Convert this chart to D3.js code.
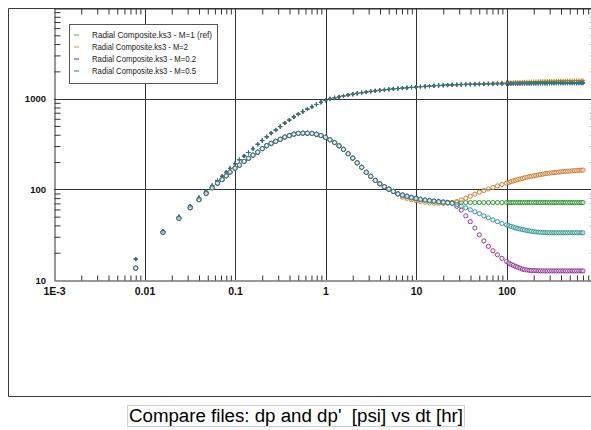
<!DOCTYPE html>
<html>
<head>
<meta charset="utf-8">
<script src="https://cdn.jsdelivr.net/npm/d3@7"></script>
<style>
  body { margin: 0; background: #fff; }
  svg { display: block; }
</style>
</head>
<body>
<div id="wrapper"></div>
<script>
// elapsed time [hr]
const times = [
  0.008, 0.016, 0.024, 0.032, 0.04, 0.048, 0.056, 0.064, 0.072, 0.08, 0.088,
  0.1, 0.112, 0.126, 0.141, 0.158, 0.178, 0.2, 0.224, 0.251, 0.282,
  0.316, 0.355, 0.398, 0.447, 0.501, 0.562, 0.631, 0.708, 0.794, 0.891,
  1, 1.12, 1.26, 1.41, 1.58, 1.78, 2, 2.24, 2.51, 2.82,
  3.16, 3.55, 3.98, 4.47, 5.01, 5.62, 6.31,
  7.08, 7.94, 8.91, 10, 11.2, 12.6, 14.1, 15.8, 17.8, 20,
  22.4, 25.1, 28.2, 31.6, 35.5, 39.8, 44.7, 50.1, 56.2, 63.1,
  70.8, 79.4, 89.1, 100,
  106, 112, 119, 126, 133, 141, 150, 158, 168, 178,
  188, 200, 211, 224, 237, 251, 266, 282, 299, 316,
  335, 355, 376, 398, 422, 447, 473, 501, 531, 562,
  596, 631, 668, 700
]

// early part is the same for all four files
const dpShared = [
  17, 34.7, 50, 65.5, 81, 95, 110, 124.5, 139, 154, 170,
  192, 212, 233, 255, 281, 314, 345, 380, 416, 452,
  492, 538, 582, 630, 675, 720, 768, 815, 863, 912,
  960, 995, 1022, 1047, 1072, 1096, 1120, 1143, 1164, 1184,
  1203, 1220, 1236, 1252, 1267, 1281, 1294
]
const derivShared = [
  13.5, 33.6, 47.9, 62.7, 76.9, 90.4, 104, 117, 128, 141, 155,
  171, 185, 203, 220, 238, 257, 281, 303, 321, 338,
  356, 377, 392, 406, 414, 416, 416, 414, 405, 392,
  375, 352, 328, 302, 276, 247, 221, 196, 175, 154,
  139, 125.5, 115, 107, 100.5, 95, 89
]

// late part, one array per file
const dpTailM1 = [
  1308, 1320, 1332, 1345, 1357, 1368, 1380, 1391, 1401, 1410,
  1418, 1426, 1433, 1440, 1446, 1451, 1456, 1460, 1464, 1468,
  1471, 1474, 1477, 1480,
  1481, 1482, 1483, 1484, 1485, 1486, 1487, 1488, 1489, 1490,
  1491, 1492, 1493, 1494, 1495, 1496, 1497, 1498, 1499, 1500,
  1501, 1502, 1503, 1504, 1505, 1506, 1507, 1508, 1509, 1510,
  1511, 1512, 1513, 1514
]
const dpTailM2 = [
  1306, 1317, 1328, 1339, 1350, 1360, 1370, 1380, 1389, 1398,
  1406, 1414, 1422, 1430, 1438, 1446, 1454, 1462, 1470, 1478,
  1486, 1494, 1501, 1508,
  1511, 1514, 1517, 1520, 1523, 1526, 1529, 1532, 1535, 1538,
  1541, 1544, 1547, 1550, 1553, 1556, 1558, 1560, 1562, 1564,
  1566, 1568, 1570, 1572, 1574, 1576, 1578, 1580, 1582, 1584,
  1586, 1588, 1590, 1592
]
const dpTailM02 = [
  1309, 1321, 1333, 1345, 1356, 1367, 1377, 1387, 1396, 1404,
  1411, 1417, 1422, 1427, 1431, 1434, 1437, 1440, 1442, 1444,
  1446, 1448, 1450, 1452,
  1453, 1454, 1455, 1456, 1457, 1458, 1459, 1460, 1461, 1462,
  1463, 1464, 1465, 1466, 1467, 1468, 1468, 1469, 1469, 1470,
  1470, 1471, 1471, 1472, 1472, 1473, 1473, 1474, 1474, 1475,
  1475, 1476, 1476, 1477
]
const dpTailM05 = [
  1309, 1321, 1333, 1345, 1356, 1367, 1378, 1388, 1397, 1405,
  1412, 1419, 1425, 1430, 1435, 1439, 1443, 1447, 1450, 1453,
  1456, 1459, 1462, 1465,
  1466, 1467, 1468, 1469, 1470, 1471, 1472, 1473, 1474, 1475,
  1476, 1477, 1478, 1479, 1480, 1481, 1482, 1483, 1484, 1485,
  1486, 1487, 1488, 1488, 1489, 1489, 1490, 1490, 1491, 1491,
  1492, 1492, 1493, 1493
]

const derivTailM1 = [
  85, 82.5, 80, 78, 76.5, 75.5, 74.5, 73.5, 73, 72.5,
  72, 71.5, 71.5, 71.5, 71.5, 71.5, 71.5, 71.5, 71.5, 71.5,
  71.5, 71.5, 71.5, 71.5,
  71.5, 71.5, 71.5, 71.5, 71.5, 71.5, 71.5, 71.5, 71.5, 71.5,
  71.5, 71.5, 71.5, 71.5, 71.5, 71.5, 71.5, 71.5, 71.5, 71.5,
  71.5, 71.5, 71.5, 71.5, 71.5, 71.5, 71.5, 71.5, 71.5, 71.5,
  71.5, 71.5, 71.5, 71.5
]
const derivTailM2 = [
  82, 79.5, 77, 75, 73.5, 72, 71, 70.3, 70, 70,
  70.5, 71.5, 73.5, 76.5, 80, 84, 88.5, 93, 97, 101,
  105, 109, 113, 117,
  119, 121.5, 124, 126, 128, 130, 132, 134, 136, 138,
  139.5, 141, 142.5, 144, 145.5, 147, 148.5, 150, 151, 152,
  153, 154, 155, 156, 157, 158, 158.5, 159, 160, 160.5,
  161, 162, 162.5, 163
]
const derivTailM02 = [
  87, 84.5, 82, 80, 78, 76.5, 75.5, 74.5, 73.5, 72.5,
  71.5, 70, 65, 59, 51, 44, 37.5, 31.5, 27, 23.5,
  21, 19, 17.3, 16,
  15.4, 14.9, 14.5, 14.1, 13.8, 13.5, 13.2, 13, 12.9, 12.8,
  12.7, 12.7, 12.7, 12.6, 12.6, 12.6, 12.6, 12.6, 12.6, 12.6,
  12.6, 12.6, 12.6, 12.6, 12.6, 12.6, 12.6, 12.6, 12.6, 12.6,
  12.6, 12.6, 12.6, 12.6
]
const derivTailM05 = [
  86, 83.5, 81, 79, 77.5, 76, 75, 74, 73, 72,
  71, 70, 68, 65.5, 62.5, 59.5, 56.5, 54, 51, 48.5,
  46, 44, 42, 40.5,
  39.8, 39, 38.3, 37.6, 37, 36.5, 36, 35.6, 35.2, 34.8,
  34.4, 34.1, 33.9, 33.7, 33.6, 33.5, 33.4, 33.3, 33.2, 33.2,
  33.2, 33.2, 33.2, 33.2, 33.2, 33.2, 33.2, 33.2, 33.2, 33.2,
  33.2, 33.2, 33.2, 33.2
]

const seriesNames = [
  "Radial Composite.ks3 - M=1 (ref)",
  "Radial Composite.ks3 - M=2",
  "Radial Composite.ks3 - M=0.2",
  "Radial Composite.ks3 - M=0.5"
]
const seriesColors = ["#0a8a0a", "#cc6a10", "#8a108a", "#108a8a"]
const legendColors = ["#70c070", "#e8a060", "#a040a0", "#40a0a0"]
const dpTails = [dpTailM1, dpTailM2, dpTailM02, dpTailM05]
const derivTails = [derivTailM1, derivTailM2, derivTailM02, derivTailM05]

const xTickLabels = ["1E-3", "0.01", "0.1", "1", "10", "100"]
const xMajor = [1e-3, 0.01, 0.1, 1, 10, 100]
const yMajor = [10, 100, 1000]

const width = 591
const height = 430
const plot = { left: 54, right: 597, top: 8, bottom: 280 }

const svg = d3.select("#wrapper")
  .append("svg")
    .attr("width", width)
    .attr("height", height)

svg.append("rect")
  .attr("width", width)
  .attr("height", height)
  .attr("fill", "#fff")

const xScale = d3.scaleLog()
  .domain([1e-3, 1e3])
  .range([plot.left, plot.right])

const yScale = d3.scaleLog()
  .domain([10, 1e4])
  .range([plot.bottom, plot.top])

// outer frame
svg.append("path")
  .attr("d", `M591,8.5 H8.5 V396.5 H591`)
  .attr("fill", "none")
  .attr("stroke", "#3a3a3a")
  .attr("stroke-width", 1)

// grid at decades
const grid = svg.append("g")
grid.selectAll(".vgrid")
  .data(xMajor.slice(1))
  .enter().append("line")
    .attr("x1", d => Math.round(xScale(d)) + 0.5)
    .attr("x2", d => Math.round(xScale(d)) + 0.5)
    .attr("y1", plot.top)
    .attr("y2", plot.bottom)
    .attr("stroke", "#333")
grid.selectAll(".hgrid")
  .data(yMajor.slice(1))
  .enter().append("line")
    .attr("x1", plot.left)
    .attr("x2", plot.right)
    .attr("y1", d => Math.round(yScale(d)) + 0.5)
    .attr("y2", d => Math.round(yScale(d)) + 0.5)
    .attr("stroke", "#333")

// minor ticks, inward on all four sides
const minorX = []
for (let e = -3; e < 3; e++) for (let k = 2; k <= 9; k++) minorX.push(k * Math.pow(10, e))
const minorY = []
for (let e = 1; e < 4; e++) for (let k = 2; k <= 9; k++) minorY.push(k * Math.pow(10, e))

function styleAxis(g) {
  g.selectAll("path, line").attr("stroke", "#333")
  g.selectAll("text").remove()
}

svg.append("g")
  .attr("transform", `translate(0, ${plot.bottom + 0.5})`)
  .call(d3.axisBottom(xScale).tickValues(minorX).tickSize(-5).tickSizeOuter(0))
  .call(styleAxis)
svg.append("g")
  .attr("transform", `translate(0, ${plot.top + 0.5})`)
  .call(d3.axisTop(xScale).tickValues(minorX).tickSize(-6).tickSizeOuter(0))
  .call(styleAxis)
svg.append("g")
  .attr("transform", `translate(${plot.left + 0.5}, 0)`)
  .call(d3.axisLeft(yScale).tickValues(minorY).tickSize(-6).tickSizeOuter(0))
  .call(styleAxis)
svg.append("g")
  .attr("transform", `translate(${plot.right - 0.5}, 0)`)
  .call(d3.axisRight(yScale).tickValues(minorY).tickSize(-6).tickSizeOuter(0))
  .call(styleAxis)

// tick labels
const xLabels = svg.append("g")
  .attr("transform", `translate(0, ${plot.bottom})`)
  .call(d3.axisBottom(xScale).tickValues(xMajor).tickSize(0).tickPadding(8)
    .tickFormat((d, i) => xTickLabels[i]))
xLabels.select(".domain").remove()
xLabels.selectAll("text")
  .attr("fill", "#111")
  .style("font", "bold 10.5px 'Liberation Sans', Arial, sans-serif")

const yLabels = svg.append("g")
  .attr("transform", `translate(${plot.left}, 0)`)
  .call(d3.axisLeft(yScale).tickValues(yMajor).tickSize(0).tickPadding(8)
    .tickFormat(d3.format("d")))
yLabels.select(".domain").remove()
yLabels.selectAll("text")
  .attr("fill", "#111")
  .style("font", "bold 9.5px 'Liberation Sans', Arial, sans-serif")

// data
svg.append("clipPath")
  .attr("id", "plotClip")
  .append("rect")
    .attr("x", plot.left)
    .attr("y", plot.top)
    .attr("width", plot.right - plot.left)
    .attr("height", plot.bottom - plot.top)

const marks = svg.append("g").attr("clip-path", "url(#plotClip)")

seriesNames.forEach((name, s) => {
  const dp = dpShared.concat(dpTails[s])
  const deriv = derivShared.concat(derivTails[s])
  const pts = times.map((t, i) => ({ t, dp: dp[i], deriv: deriv[i] }))
  const g = marks.append("g")

  g.selectAll(".cross")
    .data(pts)
    .enter().append("path")
      .attr("d", d => {
        const cx = xScale(d.t), cy = yScale(d.dp)
        return `M${cx - 2},${cy} H${cx + 2} M${cx},${cy - 2} V${cy + 2}`
      })
      .attr("stroke", seriesColors[s])
      .attr("stroke-width", 1)
      .attr("fill", "none")

  g.selectAll(".circ")
    .data(pts)
    .enter().append("circle")
      .attr("cx", d => xScale(d.t))
      .attr("cy", d => yScale(d.deriv))
      .attr("r", 2.1)
      .attr("fill", "#e6eeee")
      .attr("fill-opacity", 0.5)
      .attr("stroke", seriesColors[s])
      .attr("stroke-width", 1)
      .attr("stroke-opacity", 0.8)
})

// legend
const legend = svg.append("g")
legend.append("rect")
  .attr("x", 69.5)
  .attr("y", 24.5)
  .attr("width", 148)
  .attr("height", 59)
  .attr("fill", "#fff")
  .attr("stroke", "#555")

const rows = legend.selectAll(".row")
  .data(seriesNames)
  .enter().append("g")
    .attr("transform", (d, i) => `translate(0, ${35 + i * 12})`)
rows.append("line")
  .attr("x1", 74)
  .attr("x2", 79)
  .attr("stroke", (d, i) => legendColors[i])
  .attr("stroke-width", 1.2)
rows.append("text")
  .attr("x", 92)
  .attr("y", 3)
  .attr("fill", "#222")
  .attr("textLength", (d, i) => [120, 96, 104, 104][i])
  .attr("lengthAdjust", "spacingAndGlyphs")
  .style("font", "9px 'Liberation Sans', Arial, sans-serif")
  .text(d => d)

// title box
svg.append("rect")
  .attr("x", 127.5)
  .attr("y", 405.5)
  .attr("width", 337)
  .attr("height", 21)
  .attr("fill", "#fff")
  .attr("stroke", "#d0d0d0")
svg.append("text")
  .attr("x", 129)
  .attr("y", 422)
  .attr("textLength", 334)
  .attr("lengthAdjust", "spacingAndGlyphs")
  .style("white-space", "pre")
  .style("font", "18px 'Liberation Sans', Arial, sans-serif")
  .attr("fill", "#000")
  .text("Compare files: dp and dp'  [psi] vs dt [hr]")
</script>
</body>
</html>
